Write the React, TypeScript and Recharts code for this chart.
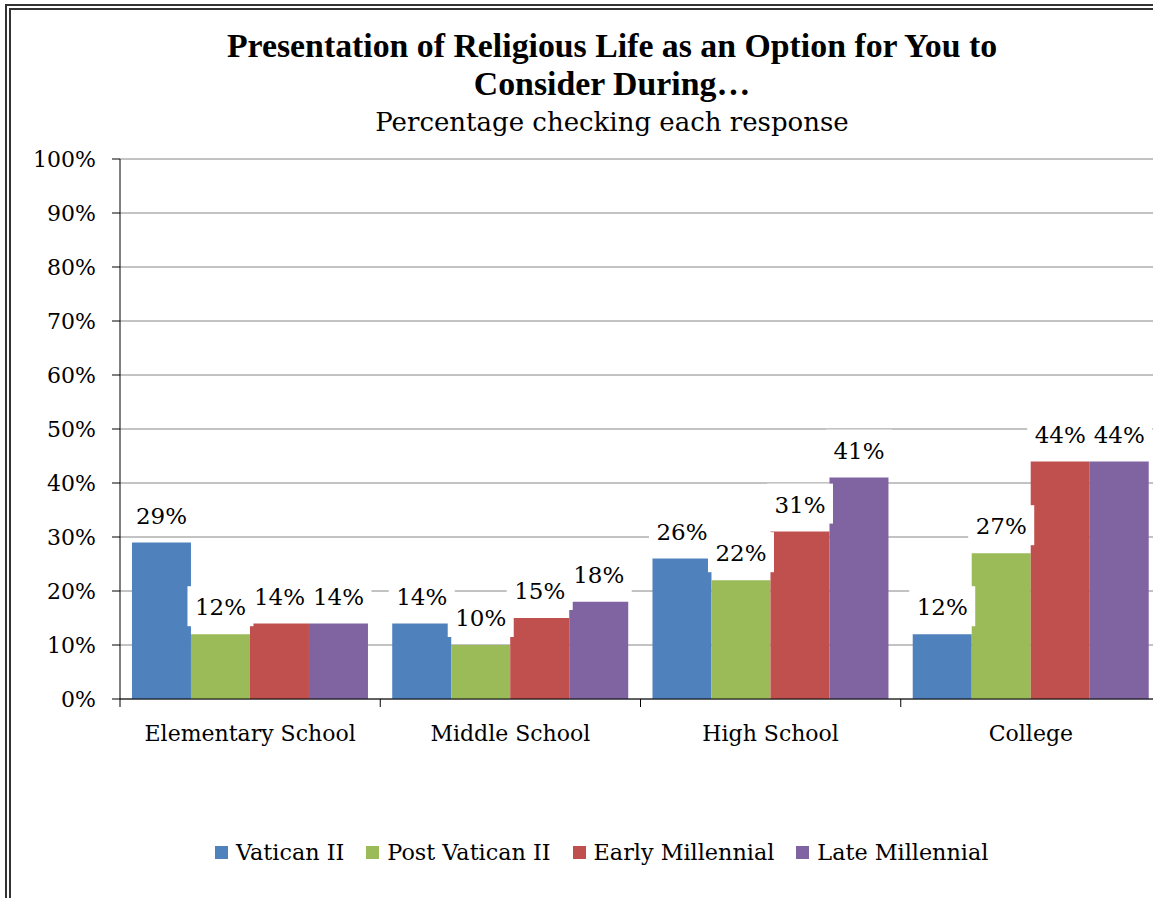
import { BarChart, Bar, XAxis, YAxis, CartesianGrid, LabelList } from 'recharts'

const categories = ['Elementary School', 'Middle School', 'High School', 'College']
const vaticanII = [29, 14, 26, 12]
const postVaticanII = [12, 10, 22, 27]
const earlyMillennial = [14, 15, 31, 44]
const lateMillennial = [14, 18, 41, 44]
const yTicks = [0, 10, 20, 30, 40, 50, 60, 70, 80, 90, 100]

const SERIES = [
  { key: 'vaticanII', name: 'Vatican II', color: '#4F81BD', values: vaticanII },
  { key: 'postVaticanII', name: 'Post Vatican II', color: '#9BBB59', values: postVaticanII },
  { key: 'earlyMillennial', name: 'Early Millennial', color: '#C0504D', values: earlyMillennial },
  { key: 'lateMillennial', name: 'Late Millennial', color: '#8064A2', values: lateMillennial },
]

const data = categories.map((name, i) => {
  const row: Record<string, string | number> = { name }
  SERIES.forEach((s) => {
    row[s.key] = s.values[i]
  })
  return row
})

const SERIF = '"DejaVu Serif", serif'

// value label with the white box behind it, like the Excel original
function BoxLabel(props: any) {
  const { x, y, width, value } = props
  const cx = Number(x) + Number(width) / 2
  const top = Number(y)
  return (
    <g>
      <rect x={cx - 33} y={top - 48} width={66} height={40} fill="#fff" />
      <text x={cx} y={top - 27} dy="0.355em" textAnchor="middle" fontSize={23} fontFamily={SERIF} fill="#000">
        {`${value}%`}
      </text>
    </g>
  )
}

// category label plus the tick marks on the group boundaries (Excel style)
function CategoryTick(props: any) {
  const { x, y, payload, index } = props
  const half = Number(payload?.offset) || 0
  const axisY = Number(y) - 26
  return (
    <g>
      <line x1={x - half} x2={x - half} y1={axisY} y2={axisY + 8} stroke="#000" />
      {index === categories.length - 1 && (
        <line x1={x + half} x2={x + half} y1={axisY} y2={axisY + 8} stroke="#000" />
      )}
      <text x={x} y={y} dy="0.71em" textAnchor="middle" fontSize={22} fontFamily={SERIF} fill="#000">
        {payload.value}
      </text>
    </g>
  )
}

export default function App() {
  return (
    <div
      style={{
        position: 'absolute',
        left: 0,
        top: 0,
        width: 1153,
        height: 898,
        overflow: 'hidden',
        background: '#fff',
        fontFamily: SERIF,
      }}
    >
      <div
        style={{
          position: 'absolute',
          left: 5,
          top: 4,
          width: 1300,
          height: 1000,
          border: '6px double #333',
        }}
      />
      <div
        style={{
          position: 'absolute',
          left: 0,
          top: 27,
          width: 1224,
          textAlign: 'center',
          fontFamily: '"Liberation Serif", serif',
          fontWeight: 700,
          fontSize: 33.8,
          lineHeight: '38px',
          color: '#000',
        }}
      >
        Presentation of Religious Life as an Option for You to
        <br />
        Consider During…
      </div>
      <div
        style={{
          position: 'absolute',
          left: 0,
          top: 106,
          width: 1224,
          textAlign: 'center',
          fontSize: 26,
          lineHeight: '32px',
          color: '#000',
        }}
      >
        Percentage checking each response
      </div>

      <div style={{ position: 'absolute', left: 0, top: 0 }}>
        <BarChart
          width={1180}
          height={898}
          data={data}
          margin={{ top: 159, right: 19, bottom: 149, left: 0 }}
          barCategoryGap="4.6%"
          barGap={0}
        >
          <CartesianGrid vertical={false} stroke="#868686" strokeWidth={1} />
          <YAxis
            width={120}
            domain={[0, 100]}
            ticks={yTicks}
            interval={0}
            tickFormatter={(v: number) => `${v}%`}
            tickSize={8}
            tickMargin={16}
            axisLine={{ stroke: '#000' }}
            tickLine={{ stroke: '#000' }}
            tick={{ fontSize: 22, fill: '#000', fontFamily: SERIF }}
          />
          <XAxis
            dataKey="name"
            height={50}
            tickSize={8}
            tickMargin={18}
            interval={0}
            axisLine={{ stroke: '#000' }}
            tickLine={false}
            tick={CategoryTick}
          />
          {SERIES.map((s) => (
            <Bar key={s.key} dataKey={s.key} name={s.name} fill={s.color} isAnimationActive={false}>
              <LabelList dataKey={s.key} content={BoxLabel} />
            </Bar>
          ))}
        </BarChart>
      </div>

      <div
        style={{
          position: 'absolute',
          left: 215,
          top: 839,
          display: 'flex',
          alignItems: 'center',
          fontSize: 22.3,
          color: '#000',
          whiteSpace: 'nowrap',
        }}
      >
        {SERIES.map((s) => (
          <span key={s.key} style={{ display: 'flex', alignItems: 'center', marginRight: 22 }}>
            <span style={{ width: 13, height: 13, background: s.color, marginRight: 8 }} />
            {s.name}
          </span>
        ))}
      </div>
    </div>
  )
}
